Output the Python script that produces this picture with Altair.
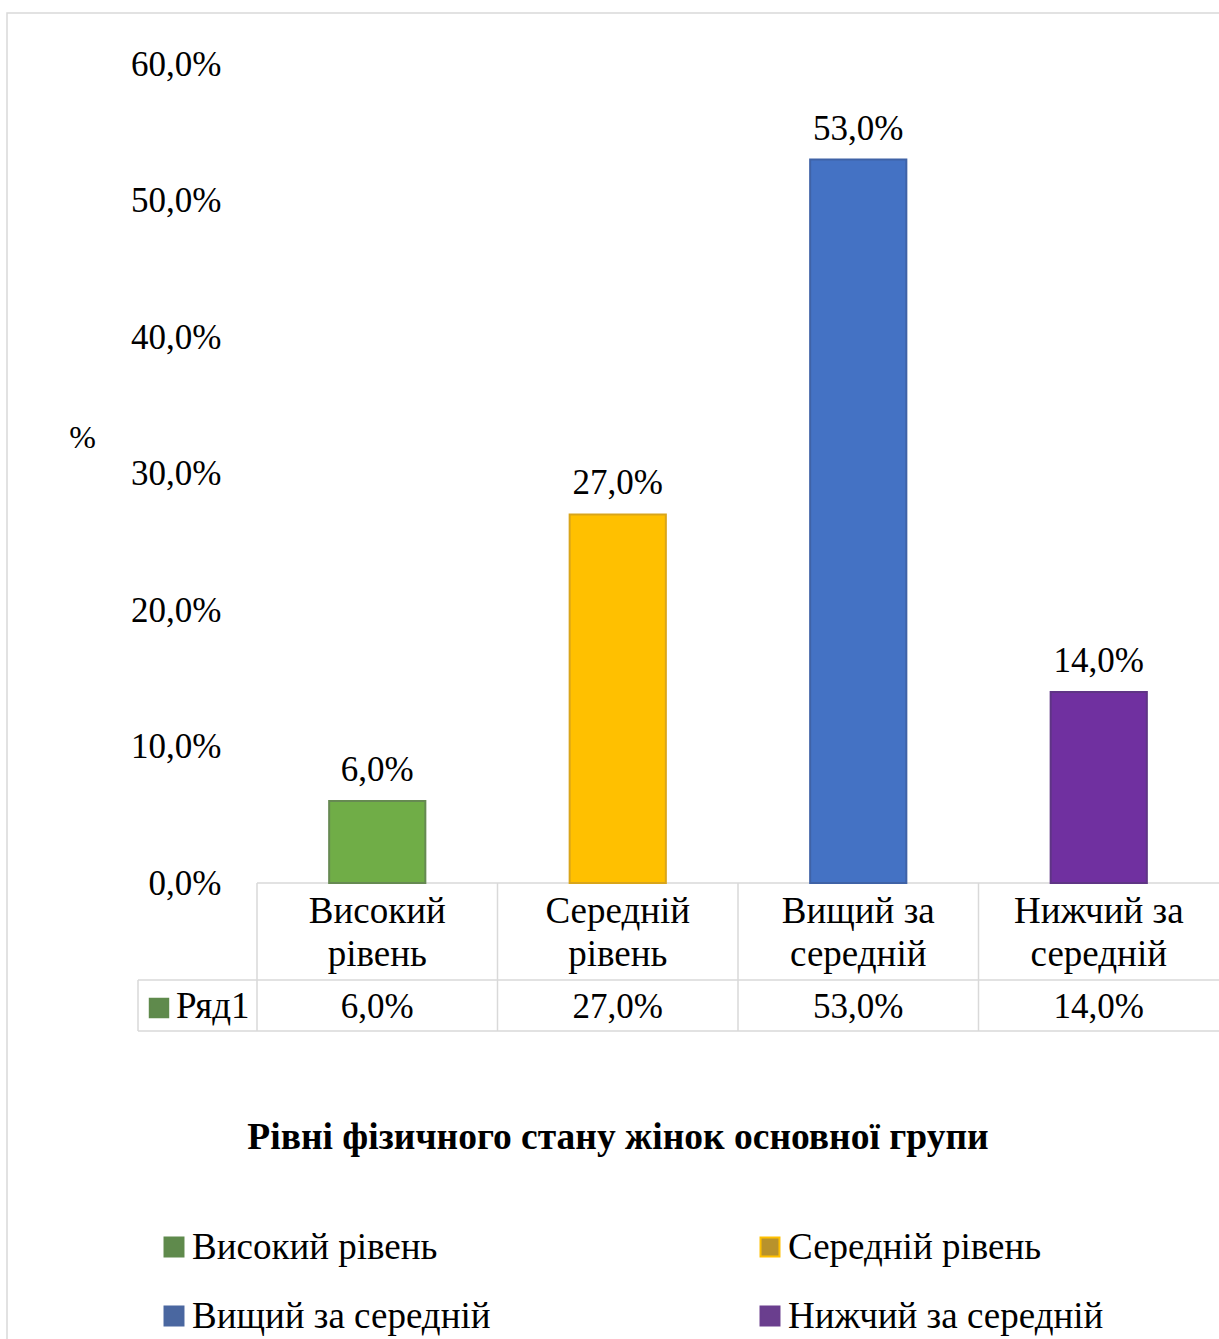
import altair as alt
import pandas as pd

# Levels of physical condition and their shares (percent)
categories = ["Високий рівень", "Середній рівень", "Вищий за середній", "Нижчий за середній"]
values = [6.0, 27.0, 53.0, 14.0]
series_name = "Ряд1"
title_text = "Рівні фізичного стану жінок основної групи"
y_ticks = [0, 10, 20, 30, 40, 50, 60]

bar_fill = ["#70AD47", "#FFC000", "#4472C4", "#7030A0"]
bar_edge = ["#668952", "#d9a51a", "#3f62a6", "#5f3585"]
swatch_fill = ["#5f8a4c", "#b8922c", "#4a67a0", "#6a3e8e"]
swatch_edge = ["#5f8a4c", "#FFC000", "#4a67a0", "#6a3e8e"]

FONT = "Liberation Serif"
FS = 35        # numbers
FS_TXT = 37    # words
GRID = "#d9d9d9"

W, H = 962, 819          # plot area
PAD_L, PAD_T = 257, 64
TOTAL_H = 1339


def pct(v):
    return f"{v:.1f}".replace(".", ",") + "%"


df = pd.DataFrame({
    "cat": categories,
    "value": values,
    "label": [pct(v) for v in values],
    "header": ["\n".join(c.rsplit(" ", 1)) for c in categories],
})
one = pd.DataFrame({"k": [0]})

x_scale = alt.Scale(domain=categories, paddingInner=0, paddingOuter=0)
y_scale = alt.Scale(domain=[0, 60])
x_enc = alt.X("cat:N", scale=x_scale, axis=None, sort=categories)

bars = alt.Chart(df).mark_bar(width=alt.RelativeBandSize(0.4), strokeWidth=2).encode(
    x=x_enc,
    y=alt.Y(
        "value:Q",
        scale=y_scale,
        axis=alt.Axis(
            values=y_ticks,
            labelExpr="replace(format(datum.value, '.1f'), '.', ',') + '%'",
            labelFont=FONT, labelFontSize=FS, labelColor="#000000",
            labelPadding=36, ticks=False, domain=False, grid=False,
            title="%", titleAngle=0, titleX=-175, titleY=373,
            titleAlign="center", titleBaseline="middle",
            titleFont=FONT, titleFontSize=32, titleFontWeight="normal",
            titleColor="#000000",
        ),
    ),
    fill=alt.Fill("cat:N", scale=alt.Scale(domain=categories, range=bar_fill), legend=None),
    stroke=alt.Stroke("cat:N", scale=alt.Scale(domain=categories, range=bar_edge), legend=None),
)

bar_labels = alt.Chart(df).mark_text(
    font=FONT, fontSize=FS, color="#000000", baseline="middle", dy=-31
).encode(x=x_enc, y=alt.Y("value:Q", scale=y_scale), text="label:N")

# Data table under the plot
def hrule(x1, x2, y):
    return alt.Chart(one).mark_rule(color=GRID, strokeWidth=1.5).encode(
        x=alt.value(x1), x2=alt.value(x2), y=alt.value(y))

table_lines = [
    hrule(0, W, H),
    hrule(-119, W, H + 97),
    hrule(-119, W, H + 148),
    alt.Chart(one).mark_rule(color=GRID, strokeWidth=1.5).encode(
        x=alt.value(-119), y=alt.value(H + 97), y2=alt.value(H + 148)),
    alt.Chart(df).mark_rule(color=GRID, strokeWidth=1.5).encode(
        x=alt.X("cat:N", scale=x_scale, axis=None, sort=categories, bandPosition=0),
        y=alt.value(H), y2=alt.value(H + 148)),
]

headers = alt.Chart(df).mark_text(
    font=FONT, fontSize=FS_TXT, color="#000000", baseline="middle",
    lineBreak="\n", lineHeight=43,
).encode(x=x_enc, y=alt.value(H + 29), text="header:N")

row_values = alt.Chart(df).mark_text(
    font=FONT, fontSize=FS, color="#000000", baseline="middle"
).encode(x=x_enc, y=alt.value(H + 124), text="label:N")

series_key = alt.Chart(one).mark_square(size=340, fill=swatch_fill[0], stroke=swatch_fill[0], opacity=1).encode(
    x=alt.value(-98), y=alt.value(H + 125))
series_text = alt.Chart(one).mark_text(
    font=FONT, fontSize=FS_TXT, color="#000000", align="left", baseline="middle", text=series_name
).encode(x=alt.value(-81), y=alt.value(H + 124))

title = alt.Chart(one).mark_text(
    font=FONT, fontSize=37.5, fontWeight="bold", color="#000000", align="center",
    baseline="middle", text=title_text,
).encode(x=alt.value(361), y=alt.value(1074))

# Legend: two columns, two rows
legend_layers = []
col_x = [-83, 513]
row_y = [1183, 1252]
for i, c in enumerate(categories):
    cx = col_x[i % 2]
    cy = row_y[i // 2]
    sub = df[df["cat"] == c]
    legend_layers.append(
        alt.Chart(sub).mark_square(size=360, fill=swatch_fill[i], stroke=swatch_edge[i],
                                   strokeWidth=2, opacity=1).encode(
            x=alt.value(cx), y=alt.value(cy))
    )
    legend_layers.append(
        alt.Chart(sub).mark_text(font=FONT, fontSize=FS_TXT, color="#000000",
                                 align="left", baseline="middle").encode(
            x=alt.value(cx + 18), y=alt.value(cy + 1), text="cat:N")
    )

frame = alt.Chart(one).mark_rect(fill=None, stroke=GRID, strokeWidth=1.5).encode(
    x=alt.value(-250), x2=alt.value(W + 20), y=alt.value(-51), y2=alt.value(TOTAL_H))

chart = alt.layer(
    frame, *table_lines, bars, bar_labels, headers, row_values,
    series_key, series_text, title, *legend_layers,
).resolve_scale(fill="independent", stroke="independent").properties(
    width=W, height=H,
    padding={"left": PAD_L, "top": PAD_T, "right": 0, "bottom": TOTAL_H - PAD_T - H},
    autosize=alt.AutoSizeParams(type="none"),
    background="#ffffff",
).configure_view(stroke=None)

chart.save("out.html", embed_options={"renderer": "svg", "actions": False})
